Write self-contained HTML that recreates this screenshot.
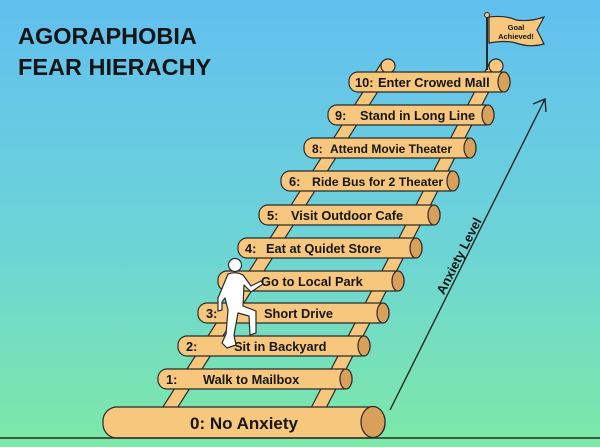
<!DOCTYPE html>
<html><head><style>
html,body{margin:0;padding:0;width:600px;height:447px;overflow:hidden}
svg{display:block}
text{font-family:"Liberation Sans",sans-serif;font-weight:bold;fill:#151515;white-space:pre}
</style></head><body>
<svg width="600" height="447" viewBox="0 0 600 447" xmlns="http://www.w3.org/2000/svg" xml:space="preserve">
<defs>
<linearGradient id="bg" x1="0" y1="0" x2="0" y2="1">
<stop offset="0" stop-color="#62bff0"/>
<stop offset="0.55" stop-color="#6dd4d6"/>
<stop offset="1" stop-color="#7de9a6"/>
</linearGradient>
</defs>
<rect width="600" height="447" fill="url(#bg)"/>
<text x="18" y="44" font-size="23.5">AGORAPHOBIA</text>
<text x="18" y="75" font-size="23.5">FEAR HIERACHY</text>

<g fill="#f7c77e" stroke="#2a2a2a" stroke-width="1.2">
<polygon points="161,410 176,410 394,66 382,62"/>
<polygon points="310,410 325,410 502,66 490,62"/>
<circle cx="388" cy="66" r="7"/>
<circle cx="496" cy="66" r="7"/>
</g>

<line x1="487" y1="16" x2="487" y2="70" stroke="#2a2a2a" stroke-width="2"/>
<circle cx="487" cy="15" r="2.5" fill="#f7c77e" stroke="#2a2a2a"/>
<path d="M489,17 Q505,15 516,20 Q530,22 544,17 L537,30 L544,44 Q530,48 516,43 Q505,40 489,43 Z" fill="#f7c77e" stroke="#2a2a2a" stroke-width="1.2"/>
<text x="516" y="30" font-size="7.5" text-anchor="middle">Goal</text>
<text x="516" y="39" font-size="7.5" text-anchor="middle">Achieved!</text>

<g stroke="#2a2a2a" stroke-width="1.2">
<rect x="349" y="72" width="161" height="20" rx="9" fill="#f7c77e"/><ellipse cx="504" cy="82" rx="6" ry="10" fill="#d9a05a"/>
<rect x="328" y="105" width="166" height="20" rx="9" fill="#f7c77e"/><ellipse cx="488" cy="115" rx="6" ry="10" fill="#d9a05a"/>
<rect x="304" y="138" width="172" height="20" rx="9" fill="#f7c77e"/><ellipse cx="470" cy="148" rx="6" ry="10" fill="#d9a05a"/>
<rect x="281" y="171" width="178" height="20" rx="9" fill="#f7c77e"/><ellipse cx="453" cy="181" rx="6" ry="10" fill="#d9a05a"/>
<rect x="259" y="205" width="181" height="20" rx="9" fill="#f7c77e"/><ellipse cx="434" cy="215" rx="6" ry="10" fill="#d9a05a"/>
<rect x="238" y="238" width="184" height="20" rx="9" fill="#f7c77e"/><ellipse cx="416" cy="248" rx="6" ry="10" fill="#d9a05a"/>
<rect x="218" y="271" width="186" height="20" rx="9" fill="#f7c77e"/><ellipse cx="398" cy="281" rx="6" ry="10" fill="#d9a05a"/>
<rect x="198" y="303" width="191" height="20" rx="9" fill="#f7c77e"/><ellipse cx="383" cy="313" rx="6" ry="10" fill="#d9a05a"/>
<rect x="178" y="336" width="192" height="20" rx="9" fill="#f7c77e"/><ellipse cx="364" cy="346" rx="6" ry="10" fill="#d9a05a"/>
<rect x="158" y="369" width="194" height="20" rx="9" fill="#f7c77e"/><ellipse cx="346" cy="379" rx="6" ry="10" fill="#d9a05a"/>
<rect x="103" y="407" width="282" height="31" rx="14" fill="#f7c77e"/><ellipse cx="373" cy="422" rx="12" ry="15.5" fill="#d9a05a"/>
</g>
<line x1="0" y1="438" x2="600" y2="438" stroke="#2a2a2a" stroke-width="1.5"/>

<g font-size="12.8">
<text x="355" y="87">10:</text><text x="378" y="87">Enter Crowed Mall</text>
<text x="335" y="120">9:</text><text x="360" y="120">Stand in Long Line</text>
<text x="312" y="153" font-size="12">8:</text><text x="330" y="153" font-size="12">Attend Movie Theater</text>
<text x="289" y="186">6:</text><text x="312" y="186" font-size="12.3">Ride Bus for 2 Theater</text>
<text x="267" y="220">5:</text><text x="291" y="220">Visit Outdoor Cafe</text>
<text x="245" y="253">4:</text><text x="266" y="253">Eat at Quidet Store</text>
<text x="261" y="286">Go to Local Park</text>
<text x="206" y="318">3:</text><text x="264" y="318">Short Drive</text>
<text x="186" y="351">2:</text><text x="234" y="351">Sit in Backyard</text>
<text x="166" y="384">1:</text><text x="203" y="384">Walk to Mailbox</text>
<text x="244" y="429" text-anchor="middle" font-size="17">0: No Anxiety</text>
</g>

<g fill="#ffffff" stroke="#2a2a2a" stroke-width="1.2" stroke-linejoin="round">
<circle cx="235" cy="265" r="6.5"/>
<path d="M228,274 Q236,271 243,275 L251,286 L261,281 L263,284 L251,292 L244,285 L243,306 L256,311 L256,333 L250,335 L249,316 L238,313 L234,335 L236,345 L227,348 L222,343 L226,334 L228,310 L225,298 L222,302 L222,310 L218,311 L218,298 Z"/>
</g>

<line x1="390" y1="410" x2="545" y2="99" stroke="#1a1a1a" stroke-width="1.3"/>
<polyline points="533,104 545,99 546,112" fill="none" stroke="#1a1a1a" stroke-width="1.3"/>
<text x="463" y="258" font-size="13" text-anchor="middle" transform="rotate(-63 463 258)">Anxiety Level</text>
</svg>
</body></html>
